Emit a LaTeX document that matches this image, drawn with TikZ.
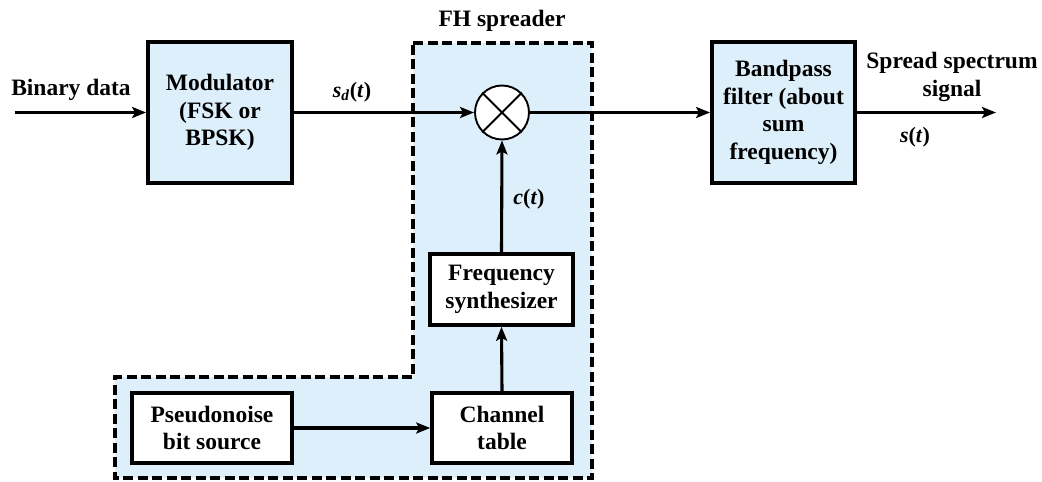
\documentclass[tikz,border=0pt]{standalone}
\usepackage{fontspec}
\setmainfont{Liberation Serif}
\usetikzlibrary{arrows.meta}
\definecolor{lblue}{RGB}{221,239,250}
\begin{document}
\begin{tikzpicture}[x=1pt,y=-1pt,
  txt/.style={font=\fontsize{23.5}{27.5}\selectfont\bfseries, align=center, inner sep=0pt},
  lbl/.style={font=\fontsize{22}{26}\selectfont\bfseries, inner sep=0pt},
  bluebox/.style={draw, line width=3.8pt, fill=lblue, txt},
  whitebox/.style={draw, line width=3.6pt, fill=white, txt},
  arr/.style={line width=3.1pt, -{Stealth[length=14pt,width=11pt,inset=3pt]}}]
\useasboundingbox (0,0) rectangle (1042,482);
% FH spreader dashed region
\path[fill=lblue, draw=black, line width=3.6pt, dash pattern=on 10pt off 4.5pt]
  (413,43) -- (592,43) -- (592,478) -- (115,478) -- (115,377) -- (413,377) -- cycle;
\node[txt] (fh) at (502,21) {FH spreader};
% blocks
\node[bluebox, minimum width=144pt, minimum height=141pt] (mod) at (220,112.5)
  {Modulator\\(FSK or\\BPSK)};
\node[bluebox, minimum width=143pt, minimum height=141pt] (bp) at (783.5,112.5)
  {Bandpass\\filter (about\\sum\\frequency)};
\node[whitebox, minimum width=143pt, minimum height=71pt] (fs) at (501.5,289.5)
  {Frequency\\synthesizer};
\node[whitebox, minimum width=140pt, minimum height=70pt] (ct) at (502,428)
  {Channel\\table};
\node[whitebox, minimum width=160pt, minimum height=70pt] (pn) at (212,428)
  {Pseudonoise\\bit source};
\node[circle, draw, fill=white, line width=1.9pt, minimum size=54pt, inner sep=0pt] (mx) at (502,112.5) {};
\draw[line width=1.9pt] (mx.north east) -- (mx.south west) (mx.north west) -- (mx.south east);
% labels
\node[txt] (bd) at (71,90) {Binary data};
\node[lbl] (sd) at (352,92) {\textit{s}\textsubscript{\textit{d}}(\textit{t})};
\node[lbl] (ctl) at (529,199) {\textit{c}(\textit{t})};
\node[txt] (ss) at (952,77) {Spread spectrum\\signal};
\node[lbl] (st) at (915,137) {\textit{s}(\textit{t})};
% connectors
\coordinate (in) at (15,112.5);
\coordinate (out) at (996,112.5);
\draw[arr] (in) -- (mod.west);
\draw[arr] (mod.east) -- (mx.west);
\draw[arr] (mx.east) -- (bp.west);
\draw[arr] (bp.east) -- (out);
\draw[arr] (fs.north) -- (mx.south);
\draw[arr] (ct.north) -- (fs.south);
\draw[arr] (pn.east) -- (ct.west);
\end{tikzpicture}
\end{document}
